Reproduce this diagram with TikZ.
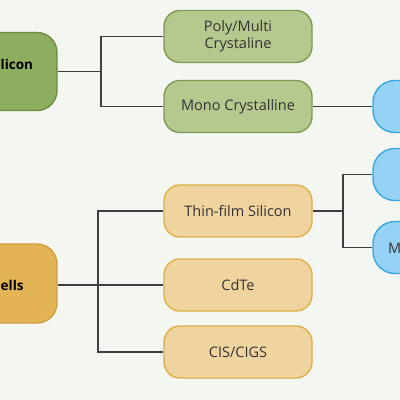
\documentclass[tikz,border=0pt]{standalone}
\usepackage{fontspec}
\setmainfont{Open Sans}
\definecolor{bg}{HTML}{F4F6F1}
\definecolor{gdf}{HTML}{8DAE5E}
\definecolor{gdb}{HTML}{6E8C46}
\definecolor{glf}{HTML}{B5C98F}
\definecolor{glb}{HTML}{7E9A52}
\definecolor{odf}{HTML}{E3B455}
\definecolor{odb}{HTML}{CFA040}
\definecolor{olf}{HTML}{F0D4A0}
\definecolor{olb}{HTML}{DDB04A}
\definecolor{blf}{HTML}{96D2F5}
\definecolor{blb}{HTML}{3AA8E0}
\definecolor{txt}{HTML}{333333}
\definecolor{ln}{HTML}{3F3F3F}
\tikzset{
  box/.style={rectangle, rounded corners=16pt, line width=1.4pt, inner sep=0pt, align=center, text=txt, font=\fontsize{14.5}{17}\selectfont},
  gbox/.style={box, fill=glf, draw=glb, minimum width=148pt, minimum height=52pt},
  obox/.style={box, fill=olf, draw=olb, minimum width=148pt, minimum height=52pt},
  bbox/.style={box, fill=blf, draw=blb, minimum width=70pt, minimum height=52pt, rounded corners=22pt},
  conn/.style={draw=ln, line width=1.3pt},
  lbl/.style={text=black, font=\bfseries\fontsize{13.5}{16}\selectfont, inner sep=0pt}
}
\begin{document}
\begin{tikzpicture}[x=1pt,y=-1pt]
\fill[bg] (0,0) rectangle (400,400);
\useasboundingbox (0,0) rectangle (400,400);
% left boxes
\node[box, fill=gdf, draw=gdb, minimum width=80pt, minimum height=78pt, rounded corners=20pt] (sil) at (17,71.5) {};
\node[lbl, anchor=west] (silt) at (0.5,64.5) {licon};
\node[box, fill=odf, draw=odb, minimum width=80pt, minimum height=79pt, rounded corners=20pt] (cel) at (17,283.5) {};
\node[lbl, anchor=west] (celt) at (0.5,285) {ells};
% middle boxes
\node[gbox] (poly) at (238,36.5) {Poly/Multi\\Crystaline};
\node[gbox] (mono) at (238,106.5) {Mono Crystalline};
\node[obox] (thin) at (238,211) {Thin-film Silicon};
\node[obox] (cdte) at (238,285) {CdTe};
\node[obox] (cis) at (238,352) {CIS/CIGS};
% blue
\node[bbox] (b1) at (408,106.5) {};
\node[bbox] (b2) at (408,174.5) {};
\node[bbox] (b3) at (408,247.5) {};
\node[text=txt, font=\fontsize{14.5}{17}\selectfont, anchor=west, inner sep=0pt] (b3t) at (388,248) {M};
% connectors
\coordinate (k1) at (101,71.5);
\draw[conn] (sil.east) -- (k1);
\draw[conn] (poly.west) -| (k1) |- (mono.west);
\draw[conn] (mono.east) -- (b1.west);
\coordinate (k2) at (98,285);
\draw[conn] (cel.east |- k2) -- (cdte.west);
\draw[conn] (thin.west) -| (k2) |- (cis.west);
\coordinate (k3) at (343,211);
\draw[conn] (thin.east) -- (k3);
\draw[conn] (b2.west) -| (k3) |- (b3.west);
\end{tikzpicture}
\end{document}
